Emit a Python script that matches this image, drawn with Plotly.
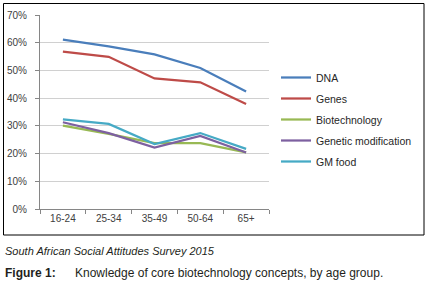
import plotly.graph_objects as go

categories = ["16-24", "25-34", "35-49", "50-64", "65+"]
dna = [61.1, 58.7, 55.8, 50.9, 42.4]
genes = [56.8, 54.9, 47.1, 45.7, 37.9]
biotech = [30.1, 27.1, 23.8, 23.8, 20.4]
genmod = [31.3, 27.4, 22.2, 26.4, 20.4]
gmfood = [32.3, 30.7, 23.4, 27.4, 21.7]
y_ticks = [0, 10, 20, 30, 40, 50, 60, 70]
y_tick_labels = [f"{v}%" for v in y_ticks]

series = [
    ("DNA", dna, "#4A7EBB"),
    ("Genes", genes, "#BE4B48"),
    ("Biotechnology", biotech, "#98B954"),
    ("Genetic modification", genmod, "#7D60A0"),
    ("GM food", gmfood, "#46AAC5"),
]

fig = go.Figure()
for name, vals, color in series:
    fig.add_trace(go.Scatter(
        x=categories, y=vals, name=name, mode="lines",
        line=dict(color=color, width=2.25), legendgroup=name,
    ))

L, R, T, B = 40, 269, 15, 209
W, H = 430, 288
pw, ph = R - L, B - T

def px(x):
    return (x - L) / pw

def py(y):
    return (B - y) / ph

fig.update_layout(
    width=W, height=H,
    margin=dict(l=L, r=W - R, t=T, b=H - B, pad=0, autoexpand=False),
    paper_bgcolor="white", plot_bgcolor="white",
    font=dict(family="Liberation Sans, Arial, sans-serif", size=10, color="#404040"),
    showlegend=True,
    legend=dict(
        xref="container", yref="container",
        x=276 / W, y=1 - 63 / H, xanchor="left", yanchor="top",
        font=dict(size=10.5, color="#262626"),
        tracegroupgap=2, itemwidth=30, bgcolor="rgba(0,0,0,0)",
    ),
    xaxis=dict(
        type="category", range=[-0.5, 4.5], showgrid=False, automargin=False,
        showline=True, linecolor="#868686", linewidth=1,
        ticks="outside", tickson="boundaries", ticklen=4, tickcolor="#868686",
        tickfont=dict(size=10, color="#404040"), fixedrange=True,
    ),
    yaxis=dict(
        range=[0, 70], tickvals=y_ticks, ticktext=y_tick_labels, automargin=False,
        showgrid=True, gridcolor="#D0D0D0", gridwidth=1,
        showline=True, linecolor="#868686", linewidth=1,
        ticks="outside", ticklen=4, tickcolor="#868686", ticklabelstandoff=6,
        tickfont=dict(size=10, color="#404040"), zeroline=False,
    ),
    shapes=[dict(
        type="rect", xref="paper", yref="paper",
        x0=px(3.5), x1=px(424), y0=py(235), y1=py(3.5),
        line=dict(color="#000000", width=1), fillcolor="rgba(0,0,0,0)",
        layer="below",
    )],
    annotations=[
        dict(text="<i>South African Social Attitudes Survey 2015</i>",
             xref="paper", yref="paper", x=px(3), y=py(251),
             xanchor="left", yanchor="middle", showarrow=False,
             font=dict(family="Liberation Sans Narrow, Liberation Sans, Arial", size=11, color="#231F20")),
        dict(text="<b>Figure 1:</b>",
             xref="paper", yref="paper", x=px(3), y=py(273),
             xanchor="left", yanchor="middle", showarrow=False,
             font=dict(family="Liberation Sans Narrow, Liberation Sans, Arial", size=12, color="#231F20")),
        dict(text="Knowledge of core biotechnology concepts, by age group.",
             xref="paper", yref="paper", x=px(73), y=py(273),
             xanchor="left", yanchor="middle", showarrow=False,
             font=dict(family="Liberation Sans Narrow, Liberation Sans, Arial", size=12, color="#231F20")),
    ],
)

fig.write_html("out.html", config={"displayModeBar": False},
               post_script="document.body.style.margin='0';")
